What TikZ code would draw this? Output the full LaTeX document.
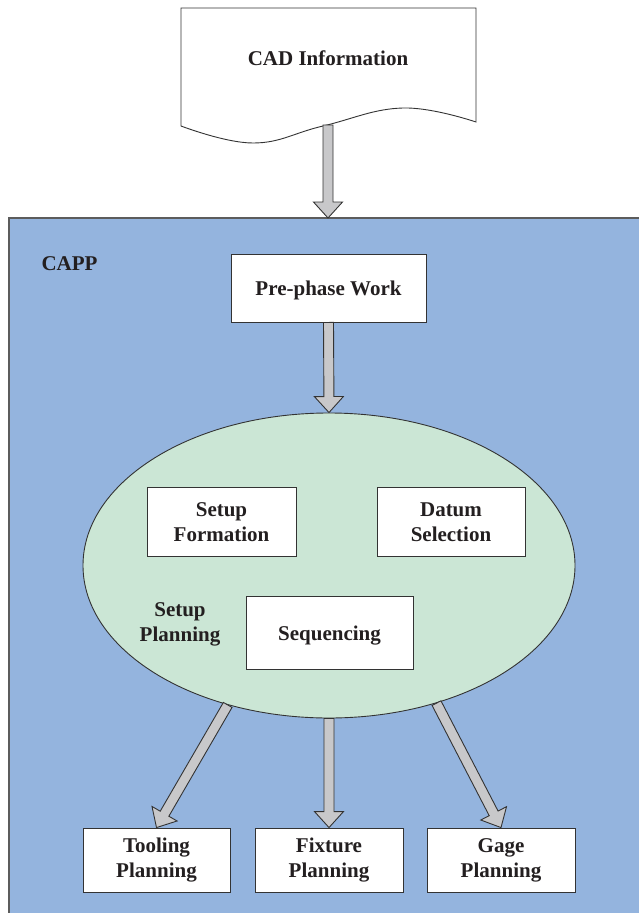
\documentclass[tikz,border=0pt]{standalone}
\usepackage{fontspec}
\setmainfont{Liberation Serif}
\usetikzlibrary{shapes.geometric,calc}
\definecolor{cappblue}{HTML}{94B4DE}
\definecolor{ellgreen}{HTML}{CBE6D5}
\definecolor{arrowgray}{HTML}{C8C8CA}
\definecolor{edgecol}{HTML}{333333}
\definecolor{txtcol}{HTML}{231F20}
\tikzset{
  lbl/.style={font=\fontsize{21}{25}\selectfont\bfseries, text=txtcol, align=center},
  whitebox/.style={draw=edgecol, line width=0.9pt, fill=white, inner sep=0pt, lbl},
  arrowstyle/.style={draw=edgecol, line width=0.9pt, fill=arrowgray, line join=miter},
  docstyle/.style={draw=edgecol, line width=0.9pt, fill=white},
  cappstyle/.style={draw=edgecol!80, line width=1.2pt, fill=cappblue},
  ellstyle/.style={ellipse, draw=edgecol, line width=0.9pt, fill=ellgreen, inner sep=0pt},
}
\newcommand\blockarr[2]{%
  \coordinate (ba-n) at ($(#2)!16pt!(#1)$);
  \draw[arrowstyle] ($(#1)!5pt!90:(#2)$) -- ($(ba-n)!5pt!90:(#2)$) -- ($(ba-n)!14.5pt!90:(#2)$)
    -- (#2) -- ($(ba-n)!14.5pt!-90:(#2)$) -- ($(ba-n)!5pt!-90:(#2)$) -- ($(#1)!5pt!-90:(#2)$) -- cycle;
}
\newcommand\lowertext[2]{\raisebox{-#1}[\height][\depth]{#2}}
\begin{document}
\begin{tikzpicture}[x=1pt,y=-1pt]
\useasboundingbox (0,0) rectangle (639,913);
\clip (0,0) rectangle (639,913);
\fill[white] (0,0) rectangle (639,913);
% CAD document
\draw[docstyle] (476,8) -- (181,8) -- plot[smooth, tension=0.7] coordinates {(181,126) (253,143) (323,126) (403,108) (476,122)} -- cycle;
\node[lbl] (cad) at (328,58) {CAD Information};
\coordinate (cadout) at (328,125);
% CAPP region
\draw[cappstyle] (9,218) rectangle (660,930);
\coordinate (cappin) at (328,218);
\blockarr{cadout}{cappin}
\node[lbl, anchor=west] (capplbl) at (38,264) {CAPP};
% Pre-phase
\node[whitebox, minimum width=195, minimum height=68] (pre) at (328.5,288) {\lowertext{2pt}{Pre-phase Work}};
% Ellipse
\node[ellstyle, minimum width=492, minimum height=305] (ell) at (329,565.5) {};
\blockarr{pre.south}{ell.north}
\node[whitebox, minimum width=149, minimum height=69] (setf) at (221.5,522) {Setup\\Formation};
\node[whitebox, minimum width=148, minimum height=69] (datum) at (451,522) {Datum\\Selection};
\node[whitebox, minimum width=167, minimum height=73] (seq) at (329.5,633) {\lowertext{3pt}{Sequencing}};
\node[lbl] (setp) at (180,624) {Setup\\Planning};
% Bottom boxes
\node[whitebox, minimum width=147, minimum height=64] (tool) at (156.5,860) {Tooling\\Planning};
\node[whitebox, minimum width=148, minimum height=64] (fix) at (329,860) {Fixture\\Planning};
\node[whitebox, minimum width=148, minimum height=64] (gage) at (501,860) {Gage\\Planning};
\blockarr{ell.234}{tool.north}
\blockarr{ell.south}{fix.north}
\blockarr{ell.308}{gage.north}
\end{tikzpicture}
\end{document}
